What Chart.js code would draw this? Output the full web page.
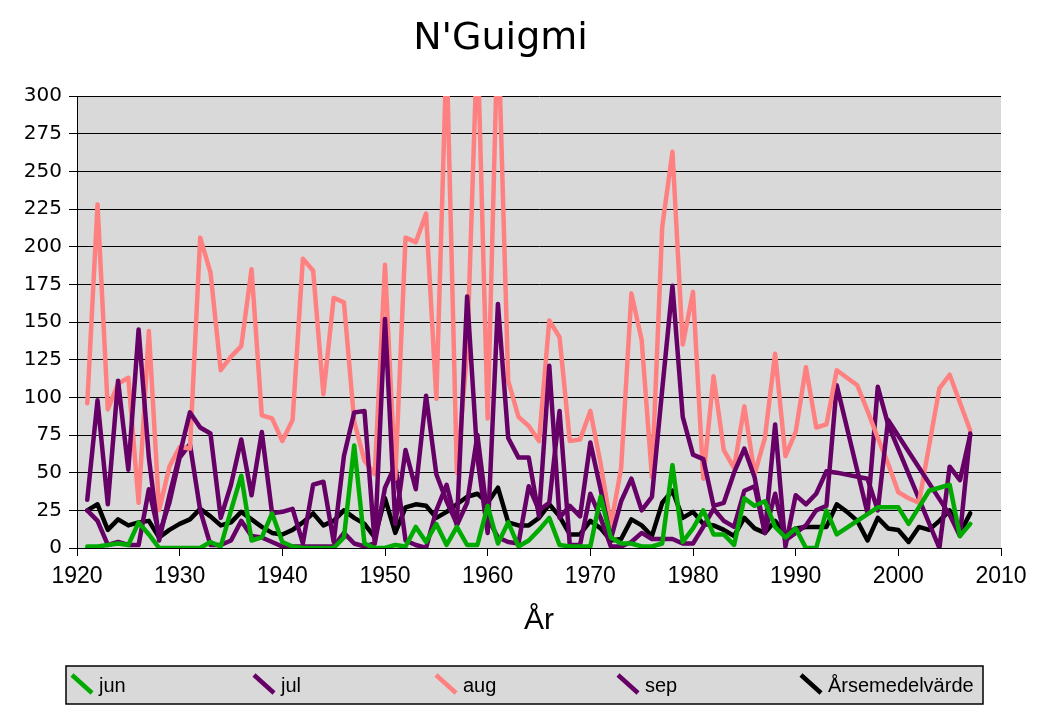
<!DOCTYPE html>
<html>
<head>
<meta charset="utf-8">
<script src="https://cdn.jsdelivr.net/npm/chart.js@4.4.1/dist/chart.umd.min.js"></script>
<style>
  html, body { margin: 0; padding: 0; background: #ffffff; }
  #wrap { width: 1048px; height: 719px; position: relative; }
</style>
</head>
<body>
<div id="wrap"><canvas id="c" width="1048" height="719"></canvas></div>
<script>
const years = [1921,1922,1923,1924,1925,1926,1927,1928,1929,1930,
  1931,1932,1933,1934,1935,1936,1937,1938,1939,1940,
  1941,1942,1943,1944,1945,1946,1947,1948,1949,1950,
  1951,1952,1953,1954,1955,1956,1957,1958,1959,1960,
  1961,1962,1963,1964,1965,1966,1967,1968,1969,1970,
  1971,1972,1973,1974,1975,1976,1977,1978,1979,1980,
  1981,1982,1983,1984,1985,1986,1987,1988,1989,1990,
  1991,1992,1993,1994,1995,1996,1997,1998,1999,2000,
  2001,2002,2003,2004,2005,2006,2007];

const jun = [1,1,2,3,2,17,9,0,0,0,
  0,0,4,1,25,48,5,7,23,4,
  1,0,0,0,0,7,68,3,0,0,
  2,1,14,4,16,2,14,2,2,28,
  3,17,1,5,12,20,2,1,1,1,
  34,7,3,3,1,1,3,55,4,13,
  25,9,9,2,33,28,31,14,7,13,
  0,0,25,9,null,null,null,27,27,27,
  16,27,38,40,42,8,16];

const jul = [32,98,29,111,52,145,60,5,35,62,
  90,80,76,20,42,72,35,77,23,24,
  26,3,42,44,4,61,90,91,3,152,
  16,65,39,101,49,31,16,167,60,10,
  162,73,60,60,21,121,20,28,21,70,
  39,6,31,46,25,34,105,174,87,62,
  59,28,30,50,66,47,10,82,1,35,
  29,36,51,50,null,null,46,25,85,null,
  null,null,null,null,22,8,76];

const aug = [96,228,92,109,113,30,144,25,54,67,
  66,206,183,118,127,134,185,88,86,71,
  85,192,184,102,166,163,84,58,49,188,
  46,206,203,222,99,330,50,130,340,86,
  350,111,87,81,71,151,140,71,72,91,
  56,15,53,169,138,47,213,263,135,170,
  46,114,65,53,94,49,73,129,61,77,
  120,80,82,118,113,108,91,73,56,37,
  33,30,null,106,115,null,78];

const sep = [25,18,2,4,2,2,39,9,30,60,
  69,25,2,2,5,18,8,7,4,1,
  1,1,1,1,1,10,3,1,3,40,
  55,5,2,0,25,42,15,30,75,20,
  7,4,3,41,25,30,91,2,2,36,
  20,1,1,4,10,6,6,6,3,3,
  14,26,18,14,38,41,10,36,5,10,
  15,25,28,108,null,null,23,107,82,null,
  null,null,null,0,54,45,75];

const mean = [25,29,12,19,15,17,18,7,12,16,
  19,26,21,15,17,24,19,14,10,9,
  12,17,23,15,18,25,20,16,7,33,
  10,27,29,28,20,24,29,34,36,30,
  40,17,15,15,20,29,21,9,9,18,
  13,5,6,19,15,8,30,38,20,24,
  16,15,12,8,20,13,10,18,9,13,
  14,14,14,29,24,18,5,20,13,12,
  4,14,12,18,25,10,23];

const seriesNames = ['jun','jul','aug','sep','Årsemedelvärde'];
const seriesColors = ['#00AA00','#660066','#FF8080','#660066','#000000'];
const yTicks = [0,25,50,75,100,125,150,175,200,225,250,275,300];
const xTicks = [1920,1930,1940,1950,1960,1970,1980,1990,2000,2010];

const seriesValues = [jun, jul, aug, sep, mean];
const datasets = seriesValues.map((vals, k) => ({
  label: seriesNames[k],
  data: years.map((yr, i) => ({x: yr, y: vals[i]})),
  borderColor: seriesColors[k],
  backgroundColor: seriesColors[k],
  borderWidth: 4.5,
  pointRadius: 0,
  pointHoverRadius: 0,
  tension: 0,
  spanGaps: true,
  fill: false,
  borderJoinStyle: 'round',
  borderCapStyle: 'round'
}));

const plotBg = {
  id: 'plotBg',
  beforeDraw(chart) {
    const {ctx, chartArea: a} = chart;
    ctx.save();
    ctx.fillStyle = '#D9D9D9';
    ctx.fillRect(a.left, a.top, a.right - a.left, a.bottom - a.top);
    ctx.restore();
  }
};

const boxLegend = {
  id: 'boxLegend',
  afterDraw(chart) {
    const ctx = chart.ctx;
    ctx.save();
    const bx = 66, by = 666, bw = 917, bh = 38;
    ctx.fillStyle = '#D9D9D9';
    ctx.fillRect(bx, by, bw, bh);
    ctx.strokeStyle = '#000';
    ctx.lineWidth = 1.5;
    ctx.strokeRect(bx, by, bw, bh);
    const starts = [71, 253, 435, 617, 800];
    chart.data.datasets.forEach((ds, i) => {
      const sx = starts[i];
      ctx.strokeStyle = ds.borderColor;
      ctx.lineWidth = 4.5;
      ctx.lineCap = 'butt';
      ctx.beginPath();
      ctx.moveTo(sx + 1, 675);
      ctx.lineTo(sx + 21, 693);
      ctx.stroke();
      ctx.fillStyle = '#000';
      ctx.font = '20px "Liberation Sans", Arial, sans-serif';
      ctx.textBaseline = 'alphabetic';
      ctx.textAlign = 'left';
      ctx.fillText(ds.label, sx + 28, 692);
    });
    ctx.restore();
  }
};

new Chart(document.getElementById('c'), {
  type: 'line',
  data: { datasets },
  plugins: [plotBg, boxLegend],
  options: {
    responsive: false,
    animation: false,
    events: [],
    layout: { padding: { left: 0, right: 47, top: 0, bottom: 79 } },
    plugins: {
      legend: { display: false },
      tooltip: { enabled: false },
      title: {
        display: true,
        text: "N'Guigmi",
        color: '#000',
        font: { family: '"DejaVu Sans", sans-serif', size: 38, weight: 'normal', lineHeight: 1.2 },
        padding: { top: 16, bottom: 34.4 }
      }
    },
    scales: {
      x: {
        type: 'linear',
        min: 1920, max: 2010,
        afterFit(s) { s.height = 92; },
        afterBuildTicks(s) { s.ticks = xTicks.map(v => ({value: v})); },
        ticks: {
          color: '#000',
          padding: 7,
          maxRotation: 0,
          autoSkip: false,
          font: { family: '"Liberation Sans", Arial, sans-serif', size: 23 },
          callback: v => String(v)
        },
        grid: { display: true, drawOnChartArea: false, drawTicks: true, tickLength: 8, color: '#000', lineWidth: 1 },
        border: { display: true, color: '#000', width: 1 },
        title: {
          display: true, text: 'År', color: '#000',
          font: { family: '"Liberation Sans", Arial, sans-serif', size: 30 },
          padding: { top: 0, bottom: 1 }
        }
      },
      y: {
        min: 0, max: 300,
        afterFit(s) { s.width = 77; },
        afterBuildTicks(s) { s.ticks = yTicks.map(v => ({value: v})); },
        ticks: {
          color: '#000',
          padding: 7,
          autoSkip: false,
          font: { family: '"DejaVu Sans", sans-serif', size: 20 }
        },
        grid: { display: true, drawOnChartArea: true, drawTicks: true, tickLength: 8, color: '#000', lineWidth: 1 },
        border: { display: true, color: '#000', width: 1 }
      }
    }
  }
});
</script>
</body>
</html>
